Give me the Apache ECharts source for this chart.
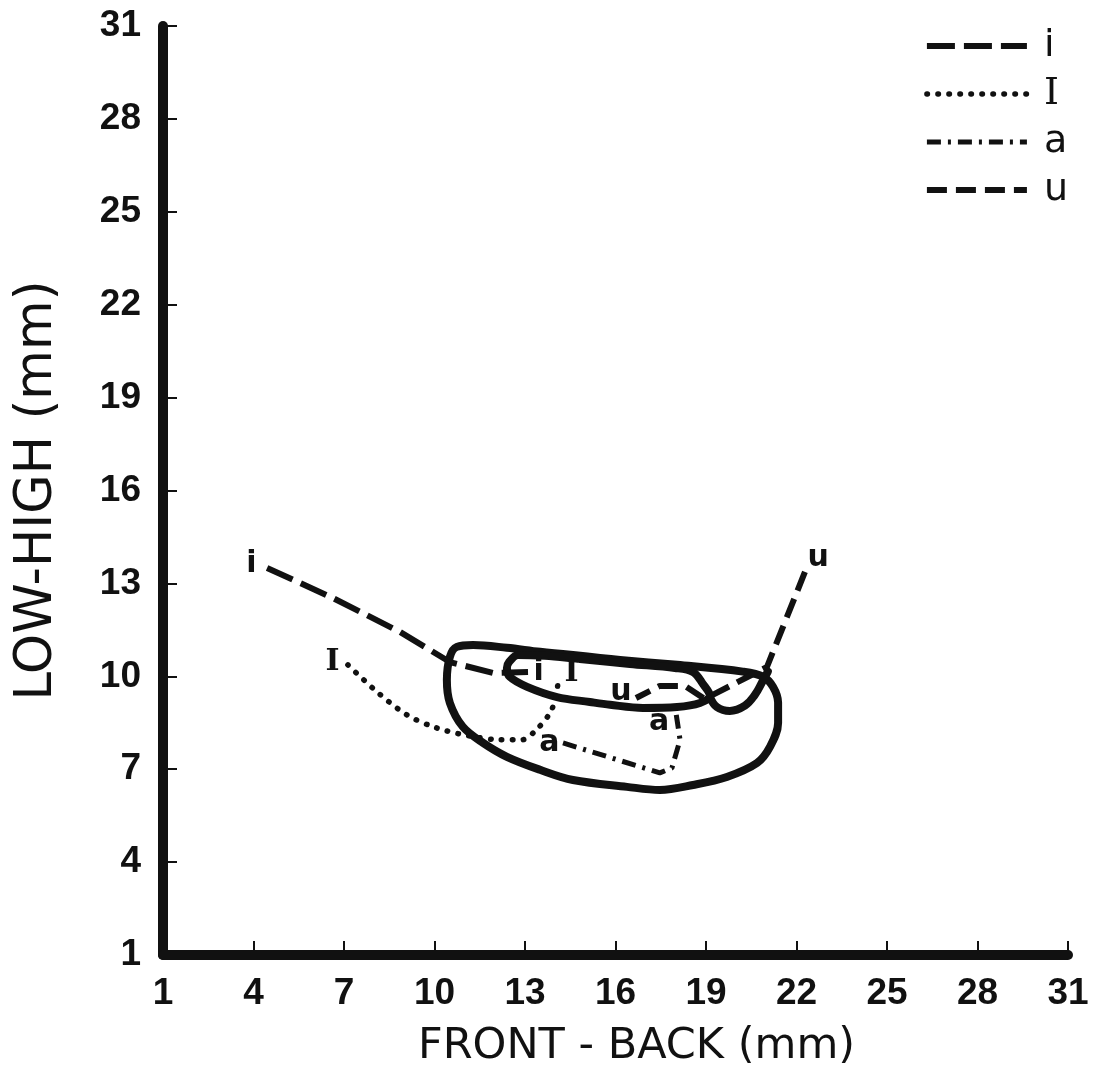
<!DOCTYPE html>
<html>
<head>
<meta charset="utf-8">
<title>Tongue positions</title>
<script src="https://cdn.jsdelivr.net/npm/echarts@6/dist/echarts.min.js"></script>
<style>
  html, body { margin: 0; padding: 0; background: #fff; }
  #chart { width: 1093px; height: 1078px; }
</style>
</head>
<body>
<div id="chart"></div>
<script>
// Axis ticks (mm)
const tickValues = [1, 4, 7, 10, 13, 16, 19, 22, 25, 28, 31];

// Vowel trajectories: [front-back, low-high] in mm
const vowelNames = ['i', 'I', 'a', 'u'];
const trackI = [[4.45, 13.50], [6.63, 12.53], [8.86, 11.43], [10.51, 10.46], [11.94, 10.11], [13.10, 10.14]];
const trackSmallCapI = [[7.13, 10.37], [8.09, 9.50], [9.09, 8.75], [10.08, 8.33], [11.18, 8.07], [12.17, 7.95],
  [12.90, 7.95], [13.43, 8.33], [13.83, 8.82], [14.03, 9.33], [14.09, 9.79]];
const trackA = [[14.26, 7.85], [17.47, 6.88], [17.87, 7.04], [18.14, 7.95], [18.00, 8.85]];
const trackU = [[22.28, 13.37], [21.02, 10.30], [18.96, 9.27], [18.30, 9.69], [17.47, 9.69], [16.68, 9.30]];

// Outline contours (closed)
const outerContour = [[14.59, 10.69], [16.15, 10.53], [18.04, 10.37], [20.22, 10.15], [20.89, 9.99], [21.22, 9.66],
  [21.39, 9.15], [21.39, 8.49], [21.12, 7.72], [20.69, 7.20], [19.69, 6.75], [18.57, 6.49], [17.47, 6.33],
  [16.38, 6.43], [14.59, 6.65], [13.50, 6.98], [12.40, 7.40], [11.61, 7.85], [10.94, 8.37], [10.51, 9.14],
  [10.41, 9.88], [10.51, 10.63], [10.74, 10.95], [11.28, 11.01], [12.40, 10.92], [13.50, 10.79], [14.59, 10.69]];
const innerContour = [[14.82, 10.56], [16.48, 10.40], [17.97, 10.27], [18.57, 10.14], [18.90, 9.75], [19.13, 9.37],
  [18.80, 9.14], [18.04, 9.01], [16.91, 8.98], [15.82, 9.08], [15.15, 9.17], [14.06, 9.33], [13.07, 9.66],
  [12.50, 9.98], [12.40, 10.27], [12.47, 10.46], [12.77, 10.69], [13.66, 10.66], [14.82, 10.56]];
const hookContour = [[19.13, 9.33], [19.36, 9.01], [19.79, 8.88], [20.29, 9.05], [20.62, 9.40], [20.85, 9.79], [21.05, 10.15]];

const ink = '#111';
const chart = echarts.init(document.getElementById('chart'), null, { renderer: 'canvas' });

// Line pattern of each vowel track
const trackStyles = {
  i: { type: [28, 9], width: 6, cap: 'butt' },
  I: { type: [0.5, 10.5], width: 5.5, cap: 'round' },
  a: { type: [14, 7, 3, 7], width: 5, cap: 'butt' },
  u: { type: [20, 9], width: 6, cap: 'butt' }
};

function endLabel(pt, name, pos, dist, off) {
  return {
    coord: pt,
    symbol: 'circle',
    symbolSize: 1,
    itemStyle: { color: 'transparent' },
    label: {
      show: true,
      formatter: name,
      position: pos,
      distance: dist,
      offset: off,
      color: ink,
      fontSize: 30,
      fontWeight: 'bold',
      fontFamily: name === 'I' ? 'DejaVu Serif' : 'DejaVu Sans'
    }
  };
}

function track(name, pts, smooth, startLbl, endLbl) {
  const st = trackStyles[name];
  return {
    name: name,
    type: 'line',
    data: pts,
    symbol: 'none',
    smooth: smooth,
    z: 5,
    lineStyle: { color: ink, width: st.width, type: st.type, cap: st.cap },
    itemStyle: { color: ink },
    emphasis: { disabled: true },
    markPoint: {
      silent: true,
      animation: false,
      data: [
        endLabel(pts[0], name, startLbl[0], startLbl[1], startLbl[2]),
        endLabel(pts[pts.length - 1], name, endLbl[0], endLbl[1], endLbl[2])
      ]
    }
  };
}

function contour(name, pts, smooth) {
  return {
    name: name,
    type: 'line',
    data: pts,
    symbol: 'none',
    smooth: smooth,
    z: 3,
    lineStyle: { color: ink, width: 8, cap: 'round', join: 'round' },
    emphasis: { disabled: true }
  };
}

const axisCommon = {
  type: 'value',
  min: tickValues[0],
  max: tickValues[tickValues.length - 1],
  interval: tickValues[1] - tickValues[0],
  splitLine: { show: false },
  axisLine: { show: true, lineStyle: { color: ink, width: 10 } },
  axisTick: { show: true, inside: true, length: 14, lineStyle: { color: ink, width: 2 } },
  axisLabel: { color: ink, fontSize: 37, fontWeight: 'bold', fontFamily: 'Liberation Sans' }
};

const option = {
  backgroundColor: '#fff',
  animation: false,
  grid: { left: 163, right: 25, top: 26, bottom: 123 },
  legend: {
    data: vowelNames.map(function (n) {
      const st = trackStyles[n];
      return {
        name: n,
        itemStyle: { color: 'transparent', borderColor: 'transparent', borderWidth: 0 },
        lineStyle: { width: st.width, type: st.type, cap: st.cap, color: ink }
      };
    }),
    orient: 'vertical',
    right: 20,
    top: 22,
    itemWidth: 100,
    itemHeight: 14,
    itemGap: 10,
    selectedMode: false,
    textStyle: {
      color: ink,
      fontSize: 38,
      fontFamily: 'DejaVu Sans',
      padding: [0, 0, 0, 12],
      rich: { s: { fontSize: 38, fontFamily: 'DejaVu Serif', color: ink } }
    },
    formatter: function (n) { return n === 'I' ? '{s|I}' : n; }
  },
  xAxis: Object.assign({}, axisCommon, {
    name: 'FRONT - BACK (mm)',
    nameLocation: 'middle',
    nameGap: 70,
    nameTextStyle: { color: ink, fontSize: 43, fontFamily: 'DejaVu Sans', padding: [0, 0, 0, 42] },
    axisLabel: Object.assign({}, axisCommon.axisLabel, { margin: 20 })
  }),
  yAxis: Object.assign({}, axisCommon, {
    name: 'LOW-HIGH (mm)',
    nameLocation: 'middle',
    nameGap: 100,
    nameRotate: 90,
    nameTextStyle: { color: ink, fontSize: 51, fontFamily: 'DejaVu Sans' },
    axisLabel: Object.assign({}, axisCommon.axisLabel, { margin: 22 })
  }),
  series: [
    contour('outer', outerContour, 0.35),
    contour('inner', innerContour, 0.35),
    contour('hook', hookContour, 0.4),
    track('i', trackI, false, ['left', 10, [0, -4]], ['right', 5, [0, 0]]),
    track('I', trackSmallCapI, 0.3, ['left', 8, [0, -3]], ['right', 6, [0, -10]]),
    track('a', trackA, false, ['left', 3, [0, 0]], ['left', 6, [0, 10]]),
    track('u', trackU, false, ['right', 2, [0, -14]], ['left', 4, [0, -6]])
  ]
};

chart.setOption(option);
</script>
</body>
</html>
